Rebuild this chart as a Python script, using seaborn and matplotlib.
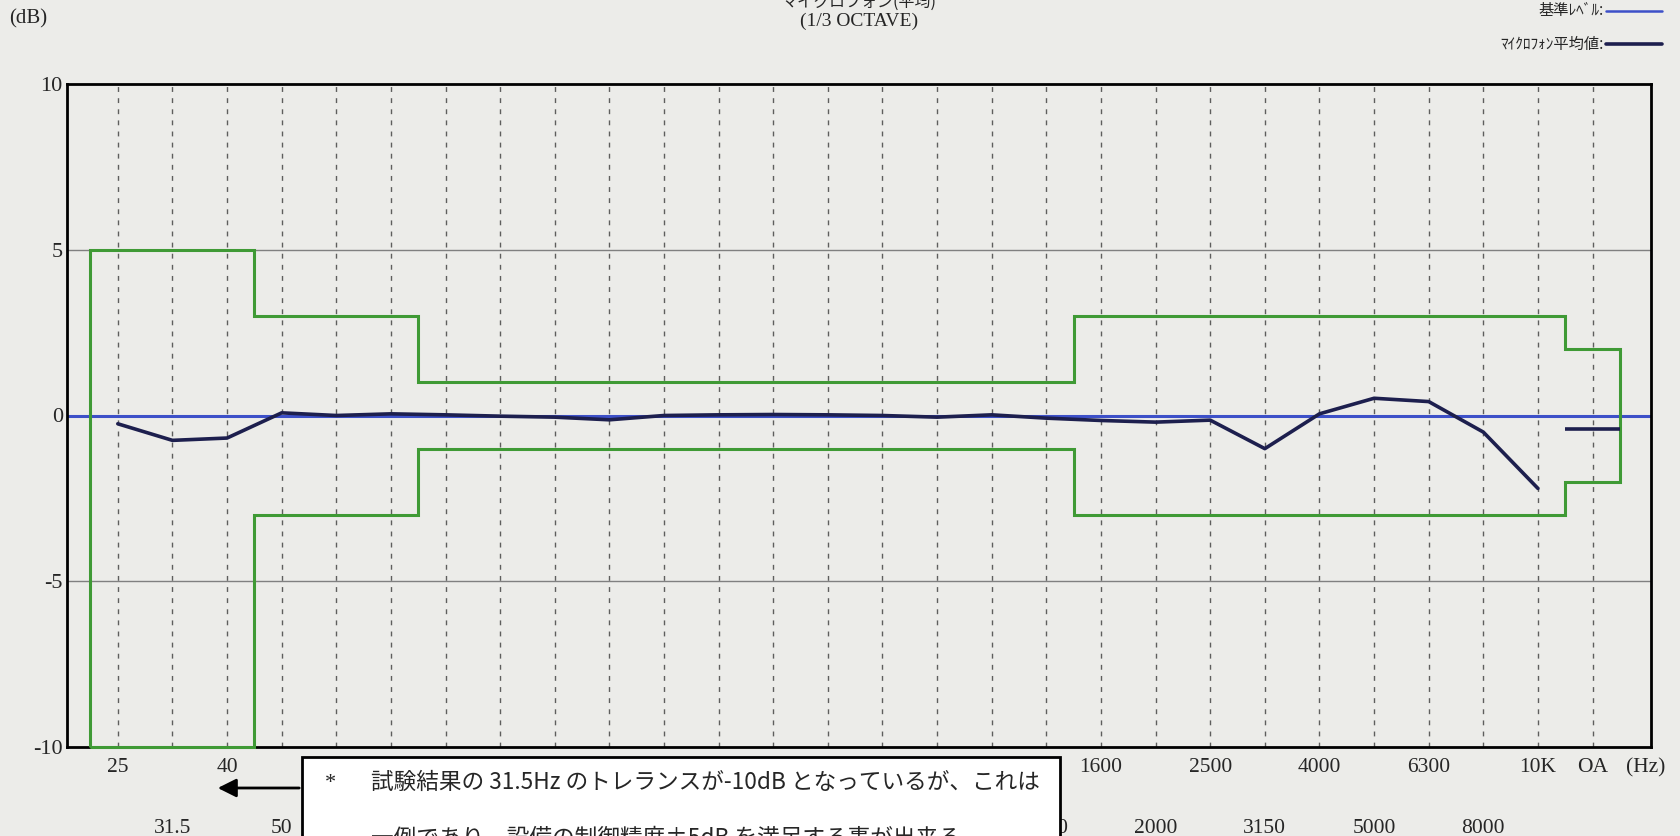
import numpy as np
import matplotlib
matplotlib.use("Agg")
import matplotlib.pyplot as plt
from matplotlib.lines import Line2D
from matplotlib.patches import Rectangle, FancyArrowPatch
import seaborn as sns

# 1/3 octave bands + overall
bands = ["25", "31.5", "40", "50", "63", "80", "100", "125", "160", "200",
         "250", "315", "400", "500", "630", "800", "1000", "1250", "1600",
         "2000", "2500", "3150", "4000", "5000", "6300", "8000", "10K", "OA"]
# label row under the axis (0 = upper, 1 = lower)
label_row = [0, 1] * 13 + [0, 0]

# microphone average (25 Hz .. 10K)
mic_avg = [-0.25, -0.75, -0.68, 0.08, 0.0, 0.05, 0.02, -0.02, -0.05, -0.13,
           0.0, 0.02, 0.03, 0.02, 0.0, -0.05, 0.02, -0.08, -0.15, -0.2,
           -0.14, -1.0, 0.05, 0.52, 0.42, -0.5, -2.2]
oa_value = -0.42

# tolerance window per band
tol_upper = [5, 5, 5, 3, 3, 3] + [1] * 12 + [3] * 9 + [2]
tol_lower = [-10, -10, -10, -3, -3, -3] + [-1] * 12 + [-3] * 9 + [-2]

ref_level = 0
yticks = [-10, -5, 0, 5, 10]
ytick_labels = ["-10", "-5", "0", "5", "10"]

note_lines = ["試験結果の 31.5Hz のトレランスが-10dB となっているが、これは",
              "一例であり、設備の制御精度±5dB を満足する事が出来る。"]

BG = "#ecece9"
BLUE = "#3d50c8"
NAVY = "#1d1f4e"
GREEN = "#3f9a35"
NUM_FONT = "Liberation Serif"

sns.set_theme(style="white")
plt.rcParams["font.family"] = ["Noto Sans CJK JP", "DejaVu Sans"]

W, H = 1681, 836
fig = plt.figure(figsize=(W / 100, H / 100), dpi=100, facecolor=BG)
ax = fig.add_axes([67 / W, 1 - 747 / H, (1651 - 67) / W, (747 - 84) / H])
ax.set_facecolor(BG)

x_idx = np.arange(len(bands))

# dashed band lines and +-5 grid
for xi in x_idx:
    ax.axvline(xi, color="#3a3a3a", lw=1.0, ls=(0, (3.5, 4.5)), alpha=0.8, zorder=1)
for yv in (5, -5):
    ax.axhline(yv, color="#808080", lw=1.0, zorder=1)

# reference level
ax.axhline(ref_level, color=BLUE, lw=2.2, zorder=2)

# tolerance window
edges = np.arange(len(bands) + 1) - 0.5
ax.stairs(tol_upper, edges, baseline=tol_lower, color=GREEN, lw=2.2,
          zorder=4, clip_on=False)

# microphone average
sns.lineplot(x=x_idx[:len(mic_avg)], y=mic_avg, ax=ax, color=NAVY, lw=2.6,
             zorder=5)
oa = len(bands) - 1
ax.hlines(oa_value, oa - 0.5, oa + 0.5, color=NAVY, lw=2.6, zorder=5)

ax.set_xlim(-0.93, 28.07)
ax.set_ylim(-10, 10)
ax.set_yticks(yticks)
ax.set_yticklabels(ytick_labels, fontfamily=NUM_FONT, fontsize=16)
ax.set_xticks(x_idx)
ax.set_xticklabels(bands, fontfamily=NUM_FONT, fontsize=15.5)
ax.tick_params(axis="both", length=0)
ax.tick_params(axis="y", pad=3)
for i, (tick, row) in enumerate(zip(ax.xaxis.get_major_ticks(), label_row)):
    tick.set_pad(8 if row == 0 else 52)
    # labels fully hidden by the note box
    if 4 <= i <= 16:
        tick.label1.set_visible(False)
ax.set_xlabel("")
ax.set_ylabel("")
ax.text(27.98, -0.032, "(Hz)", transform=ax.get_xaxis_transform(),
        fontfamily=NUM_FONT, fontsize=15.5, ha="center", va="center")
for s in ax.spines.values():
    s.set_color("black")
    s.set_linewidth(2)

# header texts
fig.text(9 / W, 1 - 19 / H, "(dB)", fontfamily=NUM_FONT, fontsize=15,
         ha="left", va="center")
fig.text(859 / W, 1 - 2 / H, "マイクロフォン(平均)", fontsize=11.5,
         ha="center", va="center")
fig.text(859 / W, 1 - 21 / H, "(1/3 OCTAVE)", fontfamily=NUM_FONT, fontsize=14,
         ha="center", va="center")

# legend (top right)
for ly, lab, col, lw in [(11, "基準ﾚﾍﾞﾙ:", BLUE, 1.8),
                         (44, "ﾏｲｸﾛﾌｫﾝ平均値:", NAVY, 2.6)]:
    fig.text(1604 / W, 1 - ly / H, lab, fontsize=11, ha="right", va="center")
    fig.add_artist(Line2D([1606 / W, 1662 / W], [1 - ly / H, 1 - ly / H],
                          transform=fig.transFigure, color=col, lw=lw))

# note box over the lower labels
box = Rectangle((302 / W, -0.05), (1060 - 302) / W, 0.05 + (836 - 757) / H,
                transform=fig.transFigure, facecolor="white",
                edgecolor="black", lw=2, clip_on=False, zorder=3)
fig.add_artist(box)
fig.text(325 / W, 1 - 784 / H, "*", fontfamily=NUM_FONT, fontsize=16,
         ha="left", va="center", zorder=4)
fig.text(371 / W, 1 - 782 / H, note_lines[0],
         fontsize=16.3, ha="left", va="center", zorder=4)
fig.text(371 / W, 1 - 838 / H, note_lines[1],
         fontsize=16.3, ha="left", va="center", zorder=4)

# arrow pointing at the 31.5 label
fig.add_artist(FancyArrowPatch(
    (302 / W, 1 - 788 / H), (215 / W, 1 - 788 / H),
    transform=fig.transFigure, arrowstyle="-|>", mutation_scale=28,
    color="black", lw=2, zorder=4))

fig.savefig("out.png", dpi=100, facecolor=BG)
